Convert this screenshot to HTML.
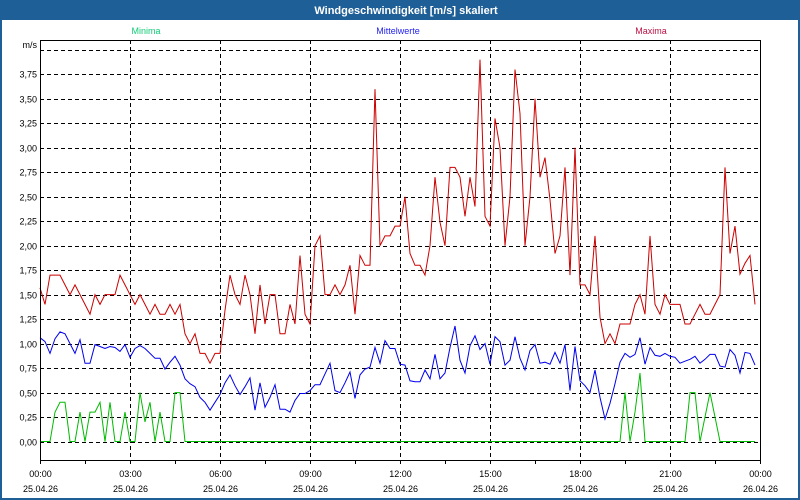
<!DOCTYPE html>
<html><head><meta charset="utf-8"><style>
html,body{margin:0;padding:0;background:#fff;}
svg{display:block;font-family:"Liberation Sans","DejaVu Sans",sans-serif;}
</style></head><body>
<svg id="chart" width="800" height="500" viewBox="0 0 800 500">
<rect x="0" y="0" width="800" height="500" fill="#1f5f97"/>
<rect x="2" y="20" width="796" height="478" fill="#ffffff"/>
<text x="406" y="14" text-anchor="middle" font-size="11" font-weight="bold" fill="#ffffff">Windgeschwindigkeit [m/s] skaliert</text>
<text x="146" y="34" text-anchor="middle" font-size="9" fill="#11cc77">Minima</text>
<text x="398" y="34" text-anchor="middle" font-size="9" fill="#2222ee">Mittelwerte</text>
<text x="651" y="34" text-anchor="middle" font-size="9" fill="#bb1144">Maxima</text>
<text x="37" y="48" text-anchor="end" font-size="9" fill="#000">m/s</text>
<g id="grid"></g>
<g id="series"></g>
<g id="axes"></g>
</svg>
<script>
const yTicks = [0,0.25,0.5,0.75,1,1.25,1.5,1.75,2,2.25,2.5,2.75,3,3.25,3.5,3.75,4];
const xTickTimes = ["00:00","03:00","06:00","09:00","12:00","15:00","18:00","21:00","00:00"];
const xTickDates = ["25.04.26","25.04.26","25.04.26","25.04.26","25.04.26","25.04.26","25.04.26","25.04.26","26.04.26"];
const maxima = [1.57,1.4,1.7,1.7,1.7,1.6,1.5,1.6,1.5,1.4,1.3,1.5,1.4,1.5,1.5,1.5,1.7,1.6,1.5,1.4,1.5,1.4,1.3,1.4,1.3,1.3,1.4,1.3,1.4,1.1,1.0,1.1,0.9,0.9,0.8,0.9,0.9,1.34,1.7,1.5,1.4,1.7,1.5,1.1,1.6,1.2,1.5,1.5,1.1,1.1,1.4,1.2,1.9,1.3,1.2,2.0,2.1,1.5,1.5,1.6,1.5,1.6,1.8,1.3,1.9,1.8,1.8,3.6,2.0,2.1,2.1,2.2,2.2,2.5,1.92,1.8,1.8,1.7,2.0,2.7,2.24,2.0,2.8,2.8,2.7,2.3,2.7,2.4,3.9,2.3,2.2,3.3,3.0,2.0,2.5,3.8,3.35,2.0,2.5,3.5,2.7,2.9,2.47,1.92,2.1,2.8,1.7,3.0,1.6,1.6,1.5,2.1,1.27,1.0,1.1,1.0,1.2,1.2,1.2,1.4,1.5,1.3,2.1,1.4,1.3,1.5,1.4,1.4,1.4,1.2,1.2,1.3,1.4,1.3,1.3,1.4,1.5,2.8,1.92,2.2,1.71,1.82,1.9,1.4];
const means = [1.06,1.02,0.9,1.05,1.12,1.1,1.0,0.9,1.04,0.8,0.8,0.99,0.97,0.95,0.97,0.96,0.92,0.99,0.86,0.95,0.98,0.95,0.9,0.85,0.85,0.74,0.81,0.87,0.78,0.64,0.59,0.56,0.45,0.4,0.32,0.4,0.48,0.6,0.68,0.57,0.48,0.56,0.65,0.32,0.6,0.35,0.45,0.58,0.33,0.33,0.3,0.42,0.49,0.49,0.52,0.58,0.58,0.69,0.8,0.52,0.5,0.6,0.71,0.44,0.68,0.74,0.76,0.96,0.8,1.03,0.95,0.95,0.79,0.78,0.62,0.61,0.61,0.73,0.64,0.89,0.64,0.7,0.96,1.18,0.83,0.7,0.98,1.08,0.94,1.0,0.79,1.07,1.02,0.78,0.83,1.07,0.85,0.73,0.93,0.99,0.8,0.81,0.79,0.91,0.8,0.99,0.52,0.97,0.62,0.57,0.5,0.73,0.45,0.23,0.39,0.59,0.81,0.9,0.86,0.89,1.06,0.79,0.96,0.88,0.87,0.9,0.87,0.86,0.8,0.82,0.84,0.87,0.8,0.84,0.89,0.89,0.77,0.76,0.94,0.88,0.7,0.91,0.9,0.78];
const minima = [0,0,0,0.3,0.4,0.4,0,0,0.3,0,0.3,0.3,0.4,0,0.4,0,0,0.3,0,0,0.5,0.2,0.4,0,0.3,0,0,0.5,0.5,0,
0,0,0,0,0,0,0,0,0,0,0,0,0,0,0,0,0,0,0,0,0,0,0,0,0,0,0,0,0,0,0,0,0,0,0,0,0,0,0,0,0,0,0,0,0,0,0,0,0,0,0,0,0,0,0,0,0,0,0,0,0,0,0,0,0,0,0,0,0,0,0,0,0,0,0,0,0,0,0,0,0,0,0,0,0,0,0,
0.5,0,0.3,0.7,0,0,0,0,0,0,0,0,0,0.5,0.5,0,0.25,0.5,0.25,0,0,0,0,0,0,0,0];

const NS = "http://www.w3.org/2000/svg";
const L = 40, R = 760, T = 40, B = 460;
const yScale = v => 441.5 - v * 97.9;
const xIndex = i => L + i * 5;
const xTick = k => L + k * 90;

function mk(tag, attrs, parent) {
  const el = document.createElementNS(NS, tag);
  for (const k in attrs) el.setAttribute(k, attrs[k]);
  parent.appendChild(el);
  return el;
}
const grid = document.getElementById('grid');
const axes = document.getElementById('axes');
const series = document.getElementById('series');

yTicks.forEach((v, k) => {
  const y = Math.round(yScale(v)) + 0.5;
  const g = mk('line', {x1: L, x2: R, y1: y, y2: y, stroke: '#000', 'stroke-width': 1, 'stroke-dasharray': '4,3'}, grid);
  
  
  if (v <= 3.75) {
    const t = mk('text', {x: 37, y: y + 3, 'text-anchor': 'end', 'font-size': 9, fill: '#000'}, axes);
    t.textContent = v.toFixed(2).replace('.', ',');
    
    
  }
});
xTickTimes.forEach((lab, k) => {
  const x = xTick(k) + 0.5;
  if (k > 0 && k < xTickTimes.length - 1) {
    const g = mk('line', {x1: x, x2: x, y1: T, y2: B, stroke: '#000', 'stroke-width': 1, 'stroke-dasharray': '4,3'}, grid);
    
    
  }
  const t = mk('text', {x: x, y: 477, 'text-anchor': 'middle', 'font-size': 9, fill: '#000'}, axes);
  t.textContent = lab;
  
  
  const d = mk('text', {x: x, y: 492, 'text-anchor': 'middle', 'font-size': 9, fill: '#000'}, axes);
  d.textContent = xTickDates[k];
  
  
});
for (let k = 0; k <= 16; k++) {
  const x = L + k * 45 + 0.5;
  const tk = mk('line', {x1: x, x2: x, y1: B, y2: B + 4, stroke: '#000'}, axes);
  
  
}
const frame = mk('path', {d: `M${L+0.5},${T} V${B+0.5} H${R+0.5} V${T}`, fill: 'none', stroke: '#000'}, axes);


const topLine = mk('line', {x1: L, x2: R, y1: T + 0.5, y2: T + 0.5, stroke: '#000'}, axes);



function drawLine(arr, color, name) {
  const pts = arr.map((v, i) => xIndex(i) + ',' + yScale(v).toFixed(1)).join(' ');
  const p = mk('polyline', {points: pts, fill: 'none', stroke: color, 'stroke-width': 1}, series);
  
  
}
drawLine(minima, '#00bb00', 'minima-line');
drawLine(means, '#0000ee', 'mittelwerte-line');
drawLine(maxima, '#cc0000', 'maxima-line');
</script>
</body></html>
